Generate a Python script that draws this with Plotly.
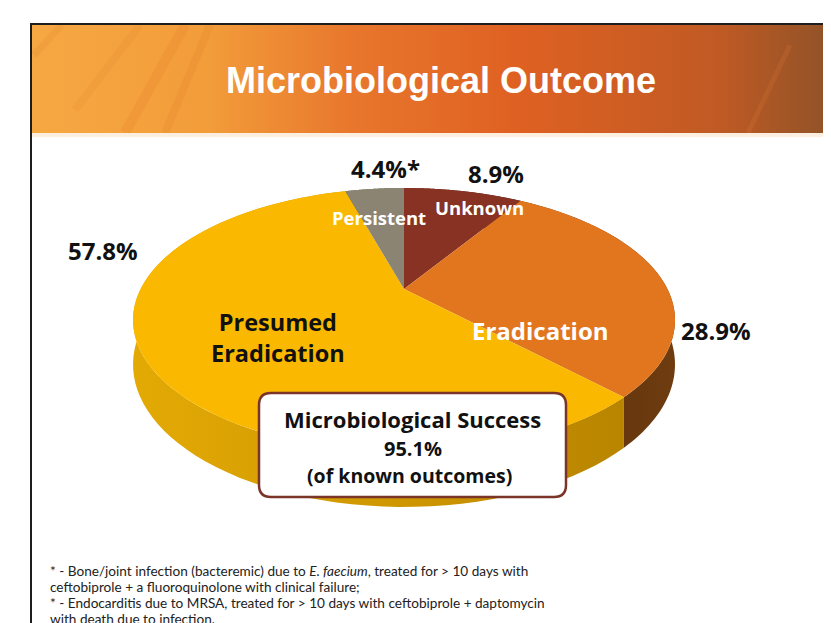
import numpy as np
import plotly.graph_objects as go

# ---------------- data ----------------
categories = ["Unknown", "Eradication", "Presumed Eradication", "Persistent"]
values = [8.9, 28.9, 57.8, 4.4]          # percent, clockwise from 12 o'clock
value_labels = ["8.9%", "28.9%", "57.8%", "4.4%*"]
success_pct = 95.1

top_colors = ["#873223", "#E1761E", "#FAB900", "#8C8473"]
side_colors = [
    [[0, "#5E2418"], [1, "#4A1C12"]],
    [[0, "#5A2E0C"], [1, "#6E3C0F"]],
    [[0, "#E3AA05"], [0.6, "#CC9400"], [1, "#B98500"]],
    [[0, "#6E6658"], [1, "#5E574B"]],
]

# ---------------- geometry of tilted pie (perspective) ----------------
CX, CY = 404.0, 289.0
P = 0.235
KX, KY = 263.4, 124.7
DEPTH = 42.0
OFF = 8  # page body margin compensation


def proj(theta_deg, r=1.0, drop=0.0):
    th = np.radians(theta_deg)
    u = r * np.sin(th)
    v = r * np.cos(th)
    den = 1 + P * v
    return CX + KX * u / den, CY - KY * v / den + drop / den


fig = go.Figure()

# header band with gradient
hx = [31, 840, 840, 31, 31]
hy = [25, 25, 133, 133, 25]
fig.add_trace(go.Scatter(
    x=hx, y=hy, mode="none", fill="toself", hoverinfo="skip",
    fillgradient=dict(type="horizontal", colorscale=[
        [0, "#F6A843"], [0.22, "#F29C3A"], [0.4, "#E8762C"],
        [0.6, "#DF6122"], [0.85, "#C05A24"], [1, "#8C5228"]]),
))

# cumulative angles
cum = np.concatenate([[0], np.cumsum(values)])
angles = cum / cum[-1] * 360.0

# side walls
for i in range(len(values)):
    a0, a1 = angles[i], angles[i + 1]
    ts = np.linspace(a0, a1, 80)
    xt, yt = proj(ts)
    xb, yb = proj(ts[::-1], 1.0, DEPTH)
    xs = np.concatenate([xt, xb, xt[:1]])
    ys = np.concatenate([yt, yb, yt[:1]])
    fig.add_trace(go.Scatter(
        x=xs, y=ys, mode="none", fill="toself", hoverinfo="skip",
        fillgradient=dict(type="horizontal", colorscale=side_colors[i]),
    ))

# top surfaces
for i in range(len(values)):
    a0, a1 = angles[i], angles[i + 1]
    ts = np.linspace(a0, a1, 120)
    xt, yt = proj(ts)
    xs = np.concatenate([[CX], xt, [CX]])
    ys = np.concatenate([[CY], yt, [CY]])
    fig.add_trace(go.Scatter(
        x=xs, y=ys, mode="none", fill="toself", fillcolor=top_colors[i],
        hoverinfo="skip", name=categories[i],
    ))

LBL = "Open Sans"
BLACK = "#111111"
ann = []


def add_text(x, y, text, size, color=BLACK, family=LBL, xanchor="center"):
    ann.append(dict(x=x, y=y, xref="x", yref="y", text=text, showarrow=False,
                    xanchor=xanchor, yanchor="middle",
                    font=dict(family=family, size=size, color=color)))


# title
add_text(441, 80, "<b>Microbiological Outcome</b>", 36, "white", "Liberation Sans")

# percentage labels
pct_pos = [(496, 173), (716, 330), (103, 250), (385, 168)]
for (x, y), t in zip(pct_pos, value_labels):
    add_text(x, y, f"<b>{t}</b>", 24)

# category labels
add_text(479, 207, "<b>Unknown</b>", 18.5, "white")
add_text(379, 217, "<b>Persistent</b>", 18.5, "white")
add_text(540, 330, "<b>Eradication</b>", 24, "white")
add_text(278, 337, "<b>Presumed<br>Eradication</b>", 23.5)

# success box text
add_text(412, 419, "<b>Microbiological Success</b>", 22)
add_text(413, 448, f"<b>{success_pct}%</b>", 20)
add_text(409, 475, "<b>(of known outcomes)</b>", 19.5)

# footnotes
foot = [
    "* - Bone/joint infection (bacteremic) due to <i>E. faecium</i>, treated for &gt; 10 days with",
    "ceftobiprole + a fluoroquinolone with clinical failure;",
    "* - Endocarditis due to MRSA, treated for &gt; 10 days with ceftobiprole + daptomycin",
    "with death due to infection.",
]
for k, line in enumerate(foot):
    add_text(48, 571 + 16 * k, line, 13.6, "#222222", "Lato", xanchor="left")

# rounded box path
bx0, by0, bx1, by1, rr = 259, 393, 566, 497, 12
box_path = (f"M {bx0+rr},{by0} L {bx1-rr},{by0} Q {bx1},{by0} {bx1},{by0+rr} "
            f"L {bx1},{by1-rr} Q {bx1},{by1} {bx1-rr},{by1} L {bx0+rr},{by1} "
            f"Q {bx0},{by1} {bx0},{by1-rr} L {bx0},{by0+rr} Q {bx0},{by0} {bx0+rr},{by0} Z")

streaks = []
for (x0, y0, x1, y1, c, w) in [
    (62, 25, 34, 55, "rgba(225,125,45,0.18)", 7),
    (140, 25, 75, 110, "rgba(230,125,45,0.15)", 8),
    (185, 25, 125, 133, "rgba(225,115,40,0.18)", 10),
    (210, 25, 165, 133, "rgba(220,110,35,0.14)", 8),
    (790, 45, 748, 133, "rgba(235,125,55,0.18)", 5),
]:
    streaks.append(dict(type="line", xref="x", yref="y", x0=x0, y0=y0, x1=x1, y1=y1,
                        line=dict(color=c, width=w), layer="above"))

shapes = streaks + [
    dict(type="rect", xref="x", yref="y", x0=31, x1=840, y0=133, y1=137,
         fillcolor="#FCEFE0", line=dict(width=0), layer="above"),
    dict(type="path", xref="x", yref="y", path=box_path, fillcolor="white",
         line=dict(color="#7A3428", width=2.5), layer="above"),
    dict(type="rect", xref="x", yref="y", x0=31, x1=860, y0=24, y1=660,
         fillcolor="rgba(0,0,0,0)", line=dict(color="#1E1E1E", width=2), layer="above"),
]

fig.update_layout(
    width=831, height=623,
    margin=dict(l=0, r=0, t=0, b=0),
    paper_bgcolor="white", plot_bgcolor="white",
    showlegend=False, hovermode=False,
    xaxis=dict(range=[OFF, 831 + OFF], visible=False, fixedrange=True),
    yaxis=dict(range=[623 + OFF, OFF], visible=False, fixedrange=True),
    annotations=ann, shapes=shapes,
)

fig.write_html("out.html")
